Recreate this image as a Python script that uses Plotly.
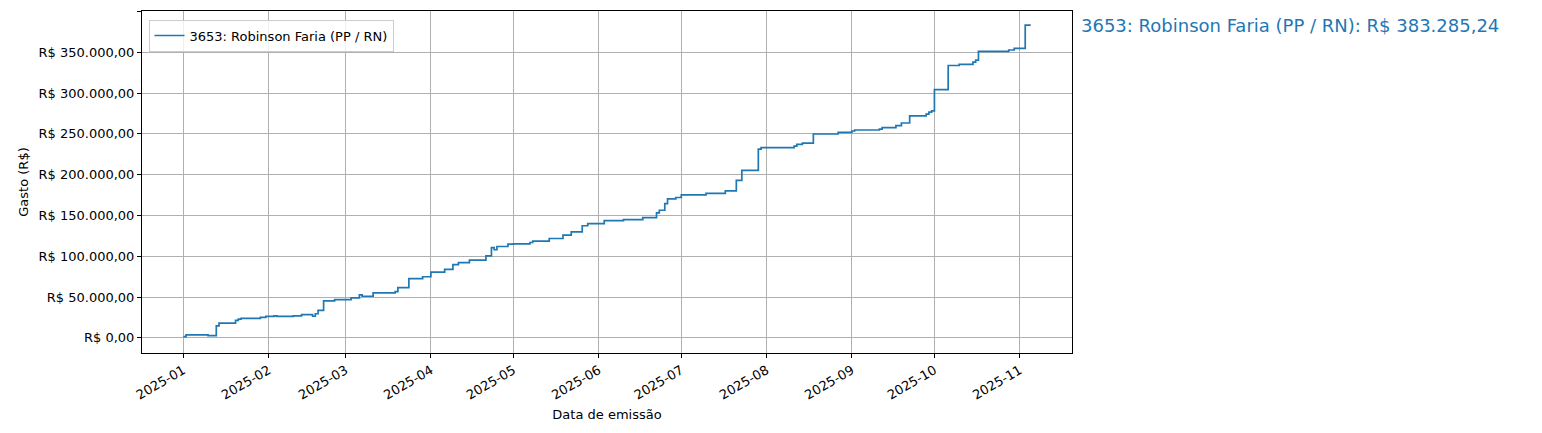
import plotly.graph_objects as go

# cumulative spending, step changes (date of change, new total)
dates = [
    "2025-01-01", "2025-01-02", "2025-01-10", "2025-01-13", "2025-01-14", "2025-01-20",
    "2025-01-21", "2025-01-22", "2025-01-29", "2025-01-31", "2025-02-03", "2025-02-04",
    "2025-02-10", "2025-02-13", "2025-02-17", "2025-02-18", "2025-02-19", "2025-02-21",
    "2025-02-25", "2025-03-03", "2025-03-06", "2025-03-07", "2025-03-11", "2025-03-19",
    "2025-03-20", "2025-03-24", "2025-03-29", "2025-04-01", "2025-04-06", "2025-04-09",
    "2025-04-11", "2025-04-15", "2025-04-21", "2025-04-23", "2025-04-24", "2025-04-25",
    "2025-04-29", "2025-05-01", "2025-05-07", "2025-05-08", "2025-05-14", "2025-05-19",
    "2025-05-22", "2025-05-26", "2025-05-28", "2025-06-03", "2025-06-10", "2025-06-17",
    "2025-06-22", "2025-06-23", "2025-06-25", "2025-06-26", "2025-06-29", "2025-07-01",
    "2025-07-10", "2025-07-17", "2025-07-21", "2025-07-23", "2025-07-29", "2025-07-30",
    "2025-08-11", "2025-08-12", "2025-08-14", "2025-08-18", "2025-08-27", "2025-09-01",
    "2025-09-02", "2025-09-11", "2025-09-12", "2025-09-17", "2025-09-19", "2025-09-22",
    "2025-09-28", "2025-09-29", "2025-09-30", "2025-10-01", "2025-10-06", "2025-10-10",
    "2025-10-15", "2025-10-16", "2025-10-17", "2025-10-28", "2025-10-30", "2025-11-03",
    "2025-11-05",
]
gasto = [
    1600, 3700, 2900, 14800, 18100, 21400,
    23000, 23900, 25100, 26300, 27000, 26300,
    27000, 28500, 26500, 29600, 33600, 45300,
    46900, 49000, 52700, 51000, 55200, 56800,
    61700, 72500, 74900, 80600, 84000, 89700,
    92200, 95400, 100400, 110700, 108000, 112000,
    114800, 115200, 116900, 118500, 121800, 125900,
    130000, 137400, 139900, 143600, 144800, 147300,
    153100, 156400, 164600, 170400, 172000, 175300,
    177000, 180200, 193000, 205300, 231200, 233000,
    235000, 237000, 238700, 249800, 251900, 253500,
    254700, 255900, 257600, 260100, 263300, 272000,
    274100, 276500, 278200, 304100, 333700, 335000,
    337900, 340400, 351000, 352700, 354700, 383285.24,
    383285.24,
]
label = "3653: Robinson Faria (PP / RN)"
total_text = "R$ 383.285,24"

ytick_vals = [0, 50000, 100000, 150000, 200000, 250000, 300000, 350000, 400000]
ytick_text = ["R$ 0,00", "R$ 50.000,00", "R$ 100.000,00", "R$ 150.000,00", "R$ 200.000,00",
              "R$ 250.000,00", "R$ 300.000,00", "R$ 350.000,00", "R$ 400.000,00"]
xtick_vals = ["2025-%02d-01" % m for m in range(1, 12)]
xtick_text = ["2025-%02d" % m for m in range(1, 12)]

blue = "#1f77b4"
fig = go.Figure()
fig.add_trace(go.Scatter(
    x=dates, y=gasto, mode="lines", line=dict(color=blue, width=1.7, shape="hv"),
    name=label,
))

fig.add_annotation(
    x=1.008, y=gasto[-1], xref="paper", yref="y", xanchor="left", yanchor="middle",
    text=f"{label}: {total_text}", showarrow=False, font=dict(size=18, color=blue),
)

axis_common = dict(showline=True, linecolor="black", linewidth=1, mirror=True,
                   showgrid=True, gridcolor="#b0b0b0", gridwidth=1, zeroline=False,
                   ticks="outside", ticklen=4, tickcolor="black",
                   tickfont=dict(size=13))
fig.update_layout(
    width=1542, height=433,
    margin=dict(l=134, r=478, t=3, b=88),
    plot_bgcolor="white", paper_bgcolor="white",
    font=dict(family="DejaVu Sans", size=12, color="black"),
    showlegend=True,
    legend=dict(x=0.007, y=0.975, xanchor="left", yanchor="top",
                bordercolor="#cccccc", borderwidth=1, bgcolor="rgba(255,255,255,0.8)",
                font=dict(size=13)),
    xaxis=dict(axis_common, range=["2024-12-17", "2025-11-20"],
               tickvals=xtick_vals, ticktext=xtick_text, tickangle=-30,
               title=dict(text="Data de emissão", font=dict(size=13), standoff=8)),
    yaxis=dict(axis_common, range=[-18500, 400500],
               tickvals=ytick_vals, ticktext=ytick_text,
               title=dict(text="Gasto (R$)", font=dict(size=13), standoff=6)),
)

fig.write_html("out.html")
